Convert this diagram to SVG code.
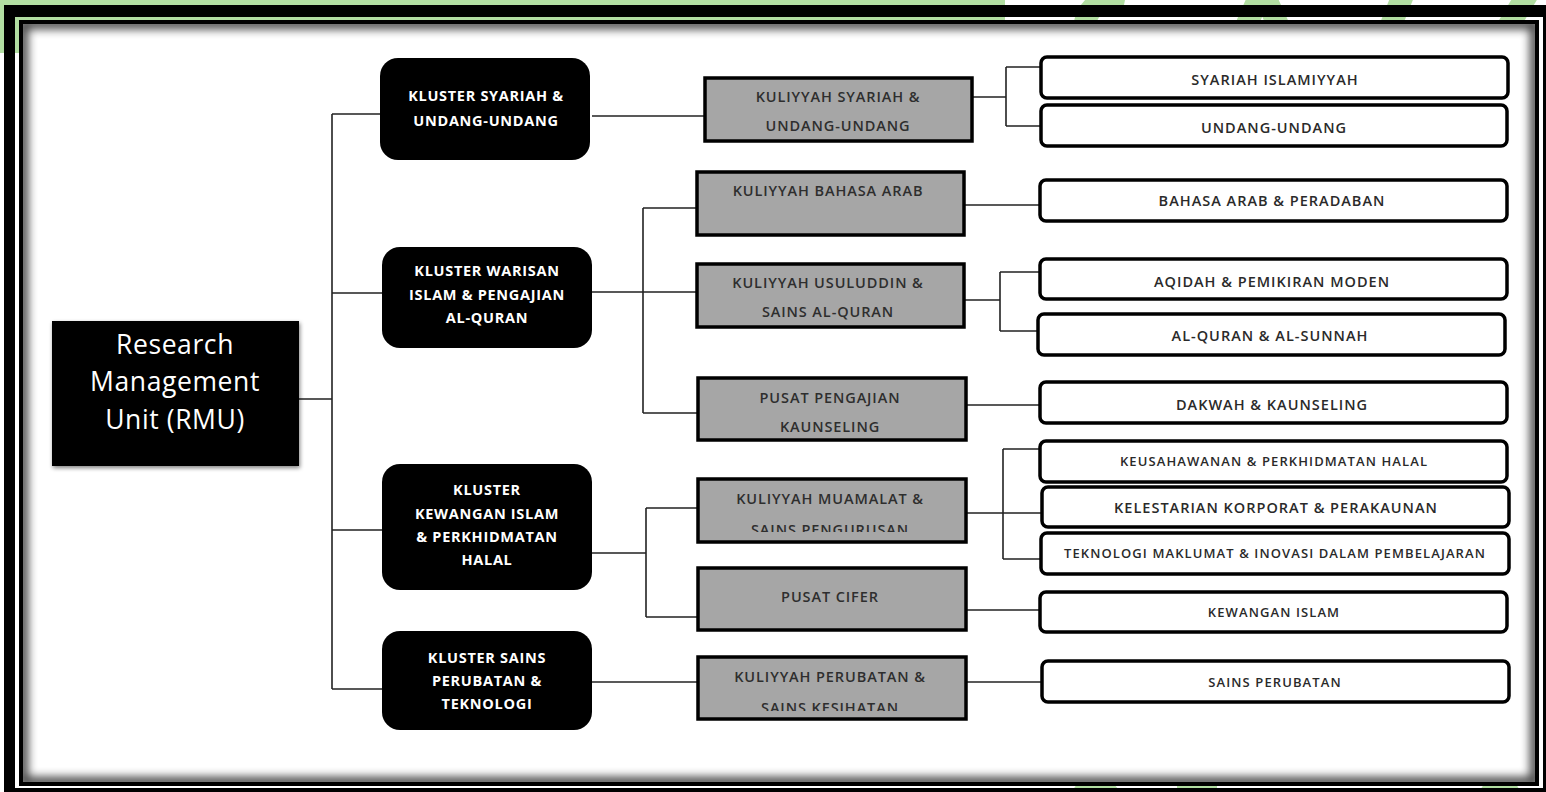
<svg xmlns="http://www.w3.org/2000/svg" width="1546" height="792" viewBox="0 0 1546 792">
<style>
.cl{fill:#000}
.ct{fill:#fff;font-family:"Open Sans","Liberation Sans",sans-serif;font-weight:700;font-size:14.5px;text-anchor:middle;letter-spacing:0.7px}
.kb{fill:#a6a6a6;stroke:#000;stroke-width:3.5}
.kt{fill:#2e2e2e;font-family:"Open Sans","Liberation Sans",sans-serif;font-weight:600;font-size:14.5px;text-anchor:middle;letter-spacing:0.9px}
.rb{fill:#fff;stroke:#000;stroke-width:3.5}
.rt{fill:#2a2a2a;font-family:"Open Sans","Liberation Sans",sans-serif;font-weight:600;font-size:14.5px;text-anchor:middle;letter-spacing:1px}
.rs{font-size:13px;letter-spacing:1.1px}
.ln{fill:none;stroke:#222;stroke-width:1.6}
.deco{fill:none;stroke:#b2dea2;stroke-width:22}
.big{fill:#fff;font-family:"Open Sans","Liberation Sans",sans-serif;font-size:26.5px;text-anchor:middle;letter-spacing:0.6px}
</style>
<defs>
<clipPath id="inner"><rect x="23" y="24" width="1512" height="758"/></clipPath>
<filter id="blur" x="-5%" y="-5%" width="110%" height="110%"><feGaussianBlur stdDeviation="5"/></filter>
<filter id="ds" x="-10%" y="-10%" width="120%" height="120%"><feGaussianBlur in="SourceAlpha" stdDeviation="2"/><feOffset dx="1" dy="2"/><feComponentTransfer><feFuncA type="linear" slope="0.5"/></feComponentTransfer><feMerge><feMergeNode/><feMergeNode in="SourceGraphic"/></feMerge></filter>
<clipPath id="c5"><rect x="690" y="470" width="290" height="62"/></clipPath>
<clipPath id="c7"><rect x="690" y="650" width="290" height="61"/></clipPath>
</defs>
<!-- background and frame -->
<rect x="0" y="0" width="1546" height="792" fill="#fff"/>
<rect x="0" y="0" width="1005" height="53" fill="#b2dea2"/>
<g id="decoration">
<path class="deco" d="M1085 40 C1080 10 1100 -5 1125 0"/>
<path class="deco" d="M1240 40 L1262 -10 L1285 40"/>
<path class="deco" d="M1385 40 L1405 -10"/>
<path class="deco" d="M1500 40 L1530 -10"/>
<path class="deco" d="M1080 800 C1090 780 1100 780 1112 800"/>
<rect x="1177" y="782" width="40" height="12" fill="#b2dea2"/>
<path class="deco" d="M1480 810 L1500 780 L1520 810"/>
</g>
<path fill="#000" fill-rule="evenodd" d="M4 5H1546V792H4Z M15 17V788H1543V17Z"/>
<path fill="#000" fill-rule="evenodd" d="M19 20H1539V786H19Z M23 24V782H1535V24Z"/>
<rect x="23" y="24" width="1512" height="758" fill="#fff"/>
<g clip-path="url(#inner)">
<rect x="23" y="24" width="1512" height="758" fill="none" stroke="#000" stroke-width="10" opacity="0.75" filter="url(#blur)"/>
</g>
<!-- connectors -->
<g id="connectors">
<path class="ln" d="M299 399H332 M332 114V689 M332 114H380 M332 293H382 M332 530H382 M332 689H382"/>
<path class="ln" d="M592 116H705"/>
<path class="ln" d="M592 292H697 M643 208V413 M643 208H697 M643 413H698"/>
<path class="ln" d="M592 553H646 M646 508V617 M646 508H698 M646 617H698"/>
<path class="ln" d="M592 682H698"/>
<path class="ln" d="M972 97H1006 M1006 67V126 M1006 67H1041 M1006 126H1041"/>
<path class="ln" d="M964 205H1040"/>
<path class="ln" d="M964 300H1000 M1000 272V331 M1000 272H1040 M1000 331H1038"/>
<path class="ln" d="M966 405H1040"/>
<path class="ln" d="M966 513H1003 M1003 449V559 M1003 449H1040 M1003 513H1042 M1003 559H1041"/>
<path class="ln" d="M966 610H1040"/>
<path class="ln" d="M966 682H1042"/>
</g>
<!-- root -->
<g id="rmu">
<rect x="52" y="321" width="247" height="145" fill="#000" filter="url(#ds)"/>
<text class="big" x="175" y="354">Research</text>
<text class="big" x="175" y="391">Management</text>
<text class="big" x="175" y="429">Unit (RMU)</text>
</g>
<!-- clusters -->
<g id="cluster1"><rect class="cl" x="380" y="58" width="210" height="102" rx="18"/>
<text class="ct" x="486" y="101">KLUSTER SYARIAH &amp;</text><text class="ct" x="486" y="126">UNDANG-UNDANG</text></g>
<g id="cluster2"><rect class="cl" x="382" y="247" width="210" height="101" rx="18"/>
<text class="ct" x="487" y="276">KLUSTER WARISAN</text><text class="ct" x="487" y="300">ISLAM &amp; PENGAJIAN</text><text class="ct" x="487" y="323">AL-QURAN</text></g>
<g id="cluster3"><rect class="cl" x="382" y="464" width="210" height="126" rx="18"/>
<text class="ct" x="487" y="495">KLUSTER</text><text class="ct" x="487" y="519">KEWANGAN ISLAM</text><text class="ct" x="487" y="542">&amp; PERKHIDMATAN</text><text class="ct" x="487" y="565">HALAL</text></g>
<g id="cluster4"><rect class="cl" x="382" y="631" width="210" height="99" rx="18"/>
<text class="ct" x="487" y="663">KLUSTER SAINS</text><text class="ct" x="487" y="686">PERUBATAN &amp;</text><text class="ct" x="487" y="709">TEKNOLOGI</text></g>
<!-- kuliyyah -->
<g id="k1"><rect class="kb" x="705" y="78" width="267" height="63"/>
<text class="kt" x="838" y="102">KULIYYAH SYARIAH &amp;</text><text class="kt" x="838" y="131">UNDANG-UNDANG</text></g>
<g id="k2"><rect class="kb" x="697" y="172" width="267" height="63"/>
<text class="kt" x="828" y="196">KULIYYAH BAHASA ARAB</text></g>
<g id="k3"><rect class="kb" x="697" y="264" width="267" height="63"/>
<text class="kt" x="828" y="288">KULIYYAH USULUDDIN &amp;</text><text class="kt" x="828" y="317">SAINS AL-QURAN</text></g>
<g id="k4"><rect class="kb" x="698" y="378" width="268" height="62"/>
<text class="kt" x="830" y="403">PUSAT PENGAJIAN</text><text class="kt" x="830" y="432">KAUNSELING</text></g>
<g id="k5"><rect class="kb" x="698" y="479" width="268" height="63"/>
<text class="kt" x="830" y="504">KULIYYAH MUAMALAT &amp;</text><text class="kt" x="830" y="535" clip-path="url(#c5)">SAINS PENGURUSAN</text></g>
<g id="k6"><rect class="kb" x="698" y="568" width="268" height="62"/>
<text class="kt" x="830" y="602">PUSAT CIFER</text></g>
<g id="k7"><rect class="kb" x="698" y="657" width="268" height="62"/>
<text class="kt" x="830" y="682">KULIYYAH PERUBATAN &amp;</text><text class="kt" x="830" y="713" clip-path="url(#c7)">SAINS KESIHATAN</text></g>
<!-- research areas -->
<g id="r1"><rect class="rb" x="1041" y="57" width="467" height="41" rx="6"/><text class="rt" x="1275" y="85">SYARIAH ISLAMIYYAH</text></g>
<g id="r2"><rect class="rb" x="1041" y="105" width="466" height="41" rx="6"/><text class="rt" x="1274" y="133">UNDANG-UNDANG</text></g>
<g id="r3"><rect class="rb" x="1040" y="180" width="467" height="41" rx="6"/><text class="rt" x="1272" y="206">BAHASA ARAB &amp; PERADABAN</text></g>
<g id="r4"><rect class="rb" x="1040" y="259" width="467" height="40" rx="6"/><text class="rt" x="1272" y="287">AQIDAH &amp; PEMIKIRAN MODEN</text></g>
<g id="r5"><rect class="rb" x="1038" y="314" width="467" height="41" rx="6"/><text class="rt" x="1270" y="341">AL-QURAN &amp; AL-SUNNAH</text></g>
<g id="r6"><rect class="rb" x="1040" y="382" width="467" height="41" rx="6"/><text class="rt" x="1272" y="410">DAKWAH &amp; KAUNSELING</text></g>
<g id="r7"><rect class="rb" x="1040" y="441" width="467" height="41" rx="6"/><text class="rt rs" x="1274" y="466">KEUSAHAWANAN &amp; PERKHIDMATAN HALAL</text></g>
<g id="r8"><rect class="rb" x="1042" y="487" width="467" height="40" rx="6"/><text class="rt" x="1276" y="513">KELESTARIAN KORPORAT &amp; PERAKAUNAN</text></g>
<g id="r9"><rect class="rb" x="1041" y="533" width="468" height="41" rx="6"/><text class="rt rs" x="1275" y="558">TEKNOLOGI MAKLUMAT &amp; INOVASI DALAM PEMBELAJARAN</text></g>
<g id="r10"><rect class="rb" x="1040" y="592" width="467" height="40" rx="6"/><text class="rt rs" x="1274" y="617">KEWANGAN ISLAM</text></g>
<g id="r11"><rect class="rb" x="1042" y="661" width="467" height="41" rx="6"/><text class="rt rs" x="1275" y="687">SAINS PERUBATAN</text></g>
</svg>
